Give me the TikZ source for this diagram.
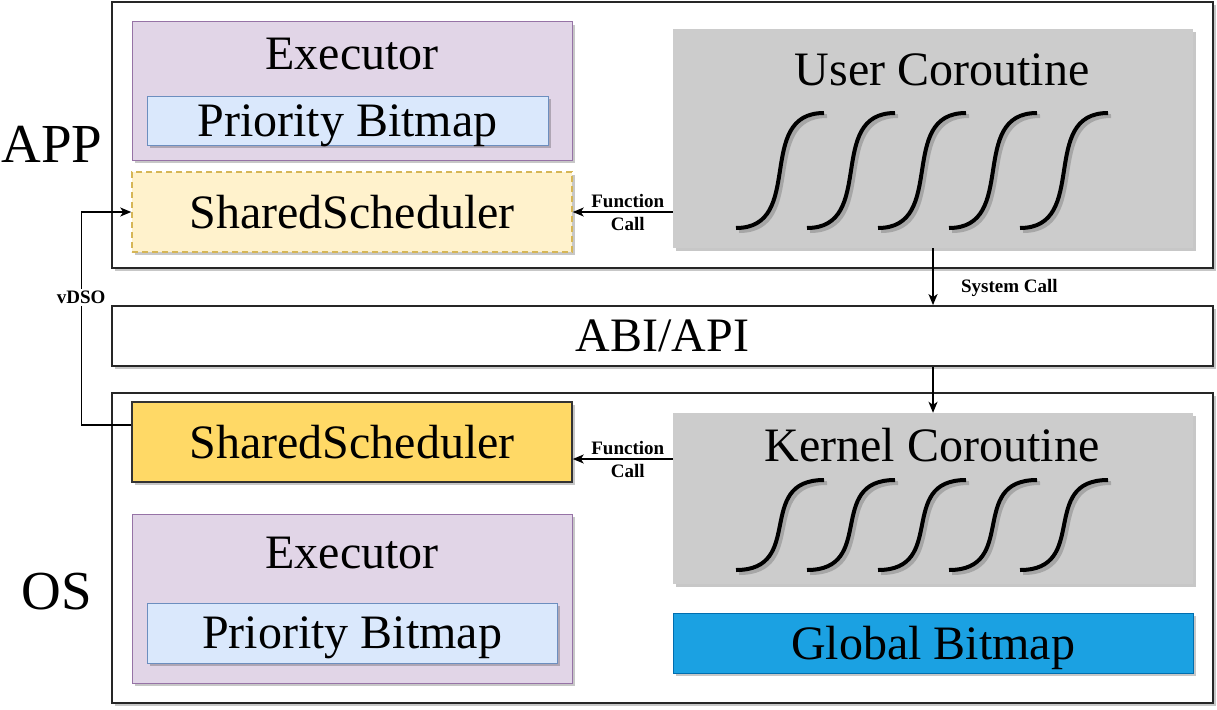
\documentclass[tikz,border=0pt]{standalone}
\usepackage{fontspec}
\setmainfont{Liberation Serif}
\usetikzlibrary{arrows.meta,shadows}
\definecolor{execfill}{HTML}{E1D5E7}
\definecolor{execline}{HTML}{9673A6}
\definecolor{priofill}{HTML}{DAE8FC}
\definecolor{prioline}{HTML}{6C8EBF}
\definecolor{shfill}{HTML}{FFF2CC}
\definecolor{shline}{HTML}{D6B656}
\definecolor{shbotfill}{HTML}{FFD966}
\definecolor{corofill}{HTML}{CCCCCC}
\definecolor{globfill}{HTML}{1BA1E2}
\definecolor{globline}{HTML}{006EAF}

\begin{document}
\begin{tikzpicture}[x=1pt,y=-1pt,
	boxshadow/.style={drop shadow={shadow xshift=3pt,shadow yshift=-3pt,fill=black,opacity=0.22}},
	big/.style={font=\fontsize{48}{56}\selectfont},
	huge/.style={font=\fontsize{55}{64}\selectfont},
	small/.style={font=\fontsize{19}{23}\selectfont\bfseries},
	layer/.style={draw=black!85,line width=1.8pt,fill=white,inner sep=0pt,minimum width=1101,boxshadow},
	execbox/.style={draw=execline,line width=1pt,fill=execfill,inner sep=0pt,minimum width=440,boxshadow},
	priobox/.style={draw=prioline,line width=1pt,fill=priofill,inner sep=0pt,text depth=0pt,big,boxshadow},
	shtopbox/.style={draw=shline,line width=1.5pt,dash pattern=on 6pt off 4pt,fill=shfill,inner sep=0pt,minimum width=440,minimum height=80,big,boxshadow},
	shbotbox/.style={draw=black!80,line width=1.5pt,fill=shbotfill,inner sep=0pt,minimum width=440,minimum height=80,big,boxshadow},
	corobox/.style={draw=none,fill=corofill,inner sep=0pt,minimum width=520,boxshadow},
	globbox/.style={draw=globline,line width=1pt,fill=globfill,inner sep=0pt,minimum width=520,minimum height=60,text depth=0pt,big,boxshadow},
	coro/.style={line width=4pt,black},
	coroshadow/.style={line width=4pt,black!35},
	call/.style={line width=1.5pt,-{Stealth[length=11pt,width=9pt,inset=3pt]}}]
	\useasboundingbox (0,0) rectangle (1217,709);
	% layers
	\node[layer,minimum height=266] (app) at (662.5,135) {};
	\node[layer,minimum height=60,big] (abi) at (662.5,336) {ABI/API};
	\node[layer,minimum height=310] (os) at (662.5,548) {};
	\node[huge,anchor=base] (applbl) at (52,162) {APP};
	\node[huge,anchor=base] (oslbl) at (57,609) {OS};
	% app side
	\node[execbox,minimum height=138] (exectop) at (352,91) {};
	\node[big,anchor=base] (exectoptxt) at (352,70) {Executor};
	\node[priobox,minimum width=401,minimum height=49] (priotop) at (347.5,120.5) {Priority Bitmap};
	\node[shtopbox] (shtop) at (352,212) {SharedScheduler};
	\node[corobox,minimum height=219] (ucoro) at (933,138.5) {};
	\node[big,anchor=base] (ucorotxt) at (942,85) {User Coroutine};
	% os side
	\node[shbotbox] (shbot) at (352,442) {SharedScheduler};
	\node[corobox,minimum height=171] (kcoro) at (933,498.5) {};
	\node[big,anchor=base] (kcorotxt) at (932,461) {Kernel Coroutine};
	\node[execbox,minimum height=169] (execbot) at (352,598.5) {};
	\node[big,anchor=base] (execbottxt) at (352,568) {Executor};
	\node[priobox,minimum width=410,minimum height=60] (priobot) at (352,633) {Priority Bitmap};
	\node[globbox] (glob) at (933,643) {Global Bitmap};
	% coroutines
	\foreach \cx in {736,807,...,1020} {
		\draw[coroshadow] (\cx+3,231) .. controls (\cx+73,231) and (\cx+21,116) .. (\cx+91,116);
		\draw[coro] (\cx,228) .. controls (\cx+70,228) and (\cx+18,113) .. (\cx+88,113);
		\draw[coroshadow] (\cx+3,573) .. controls (\cx+73,573) and (\cx+21,483) .. (\cx+91,483);
		\draw[coro] (\cx,570) .. controls (\cx+70,570) and (\cx+18,480) .. (\cx+88,480);
	}
	% calls
	\draw[call] (ucoro.west |- shtop.east) -- (shtop.east) node[midway,small,align=center,xshift=5pt] {Function\\Call};
	\draw[call] ([yshift=-17pt]shbot.east -| kcoro.west) -- ([yshift=-17pt]shbot.east) node[midway,small,align=center,xshift=5pt] {Function\\Call};
	\draw[call] (ucoro.south) -- (ucoro.south |- abi.north) node[pos=0.7,right=24pt,small] {System Call};
	\draw[call] (abi.south -| kcoro.north) -- (kcoro.north);
	\draw[call] ([yshift=17pt]shbot.west) -- ++(-50,0) |- (shtop.west) node[pos=0.3,fill=white,small,inner sep=2pt] {vDSO};
\end{tikzpicture}
\end{document}
